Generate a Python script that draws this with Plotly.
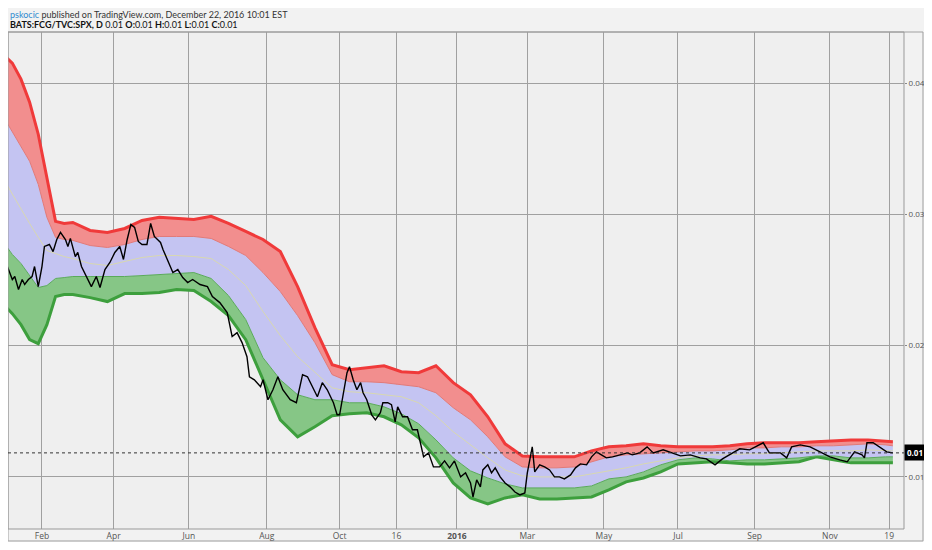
import plotly.graph_objects as go

# band sample dates (weekly at the start, then every two weeks)
band_dates = ["2015-01-02", "2015-01-09", "2015-01-16", "2015-01-23", "2015-01-30",
              "2015-02-06", "2015-02-13", "2015-02-20", "2015-02-27", "2015-03-13",
              "2015-03-27", "2015-04-10", "2015-04-24", "2015-05-08", "2015-05-22",
              "2015-06-05", "2015-06-19", "2015-07-03", "2015-07-17", "2015-07-31",
              "2015-08-14", "2015-08-28", "2015-09-11", "2015-09-25", "2015-10-09",
              "2015-10-23", "2015-11-06", "2015-11-20", "2015-12-04", "2015-12-18",
              "2016-01-01", "2016-01-15", "2016-01-29", "2016-02-12", "2016-02-26",
              "2016-03-11", "2016-03-25", "2016-04-08", "2016-04-22", "2016-05-06",
              "2016-05-20", "2016-06-03", "2016-06-17", "2016-07-01", "2016-07-15",
              "2016-07-29", "2016-08-12", "2016-08-26", "2016-09-09", "2016-09-23",
              "2016-10-07", "2016-10-21", "2016-11-04", "2016-11-18", "2016-12-02",
              "2016-12-16", "2016-12-22"]

upper_outer = [0.04214, 0.04153, 0.04031, 0.03855, 0.03611, 0.03267, 0.02947, 0.02931, 0.02939, 0.02878,
               0.02863, 0.02893, 0.02954, 0.02978, 0.02970, 0.02962, 0.02985, 0.02931, 0.02870, 0.02809,
               0.02717, 0.02450, 0.02137, 0.01855, 0.01817, 0.01832, 0.01847, 0.01802, 0.01794, 0.01847,
               0.01718, 0.01626, 0.01458, 0.01252, 0.01160, 0.01153, 0.01153, 0.01153, 0.01198, 0.01229,
               0.01237, 0.01252, 0.01237, 0.01229, 0.01229, 0.01229, 0.01237, 0.01252, 0.01260, 0.01260,
               0.01260, 0.01267, 0.01275, 0.01282, 0.01282, 0.01275, 0.01267]

upper_inner = [0.03741, 0.03626, 0.03519, 0.03405, 0.03229, 0.02978, 0.02825, 0.02809, 0.02802, 0.02763,
               0.02748, 0.02771, 0.02809, 0.02832, 0.02832, 0.02832, 0.02817, 0.02756, 0.02687, 0.02557,
               0.02412, 0.02229, 0.02023, 0.01779, 0.01725, 0.01725, 0.01718, 0.01702, 0.01687, 0.01641,
               0.01527, 0.01435, 0.01305, 0.01153, 0.01076, 0.01069, 0.01069, 0.01076, 0.01115, 0.01153,
               0.01168, 0.01176, 0.01183, 0.01191, 0.01198, 0.01198, 0.01206, 0.01221, 0.01221, 0.01229,
               0.01229, 0.01237, 0.01237, 0.01244, 0.01252, 0.01244, 0.01237]

middle = [0.03267, 0.03153, 0.03046, 0.02931, 0.02825, 0.02725, 0.02702, 0.02679, 0.02664, 0.02626,
          0.02611, 0.02641, 0.02672, 0.02687, 0.02687, 0.02679, 0.02664, 0.02580, 0.02458, 0.02260,
          0.02076, 0.01916, 0.01794, 0.01679, 0.01649, 0.01641, 0.01626, 0.01611, 0.01565, 0.01466,
          0.01344, 0.01244, 0.01145, 0.01053, 0.01008, 0.01000, 0.01000, 0.01000, 0.01023, 0.01046,
          0.01069, 0.01099, 0.01122, 0.01145, 0.01160, 0.01168, 0.01168, 0.01176, 0.01176, 0.01183,
          0.01191, 0.01198, 0.01198, 0.01198, 0.01206, 0.01198, 0.01198]

lower_inner = [0.02786, 0.02695, 0.02626, 0.02534, 0.02443, 0.02458, 0.02512, 0.02519, 0.02527, 0.02527,
               0.02527, 0.02527, 0.02534, 0.02542, 0.02550, 0.02557, 0.02512, 0.02382, 0.02199, 0.01908,
               0.01740, 0.01626, 0.01588, 0.01588, 0.01565, 0.01565, 0.01534, 0.01481, 0.01405, 0.01282,
               0.01145, 0.01046, 0.00992, 0.00947, 0.00916, 0.00916, 0.00916, 0.00916, 0.00931, 0.00985,
               0.01000, 0.01038, 0.01092, 0.01130, 0.01145, 0.01137, 0.01122, 0.01130, 0.01130, 0.01137,
               0.01145, 0.01160, 0.01160, 0.01145, 0.01145, 0.01153, 0.01153]

lower_outer = [0.02313, 0.02244, 0.02160, 0.02046, 0.02015, 0.02160, 0.02374, 0.02389, 0.02389, 0.02366,
               0.02336, 0.02397, 0.02397, 0.02405, 0.02428, 0.02420, 0.02336, 0.02229, 0.02046, 0.01740,
               0.01435, 0.01305, 0.01382, 0.01466, 0.01481, 0.01489, 0.01458, 0.01397, 0.01298, 0.01145,
               0.00954, 0.00840, 0.00794, 0.00840, 0.00863, 0.00832, 0.00832, 0.00840, 0.00847, 0.00901,
               0.00962, 0.00992, 0.01038, 0.01099, 0.01107, 0.01115, 0.01107, 0.01099, 0.01099, 0.01107,
               0.01115, 0.01153, 0.01130, 0.01107, 0.01107, 0.01107, 0.01107]

# FCG / SPX ratio
price_dates = ["2015-01-02", "2015-01-05", "2015-01-09", "2015-01-11", "2015-01-14", "2015-01-17",
               "2015-01-19", "2015-01-22", "2015-01-25", "2015-01-27", "2015-01-30", "2015-02-02",
               "2015-02-04", "2015-02-08", "2015-02-11", "2015-02-14", "2015-02-17", "2015-02-21",
               "2015-02-23", "2015-02-25", "2015-03-01", "2015-03-03", "2015-03-06", "2015-03-10",
               "2015-03-14", "2015-03-18", "2015-03-21", "2015-03-25", "2015-03-29", "2015-04-02",
               "2015-04-06", "2015-04-09", "2015-04-12", "2015-04-15", "2015-04-18", "2015-04-21",
               "2015-04-24", "2015-04-28", "2015-05-01", "2015-05-04", "2015-05-09", "2015-05-11",
               "2015-05-15", "2015-05-19", "2015-05-23", "2015-05-27", "2015-05-31", "2015-06-04",
               "2015-06-10", "2015-06-16", "2015-06-20", "2015-06-26", "2015-07-02", "2015-07-06",
               "2015-07-10", "2015-07-14", "2015-07-18", "2015-07-20", "2015-07-24", "2015-07-29",
               "2015-07-31", "2015-08-04", "2015-08-08", "2015-08-12", "2015-08-16", "2015-08-22",
               "2015-08-27", "2015-09-01", "2015-09-05", "2015-09-09", "2015-09-13", "2015-09-17",
               "2015-09-21", "2015-09-26", "2015-09-29", "2015-10-01", "2015-10-04", "2015-10-07",
               "2015-10-09", "2015-10-12", "2015-10-15", "2015-10-18", "2015-10-20", "2015-10-23",
               "2015-10-27", "2015-10-30", "2015-11-03", "2015-11-05", "2015-11-09", "2015-11-12",
               "2015-11-15", "2015-11-17", "2015-11-21", "2015-11-25", "2015-11-29", "2015-12-03",
               "2015-12-08", "2015-12-12", "2015-12-16", "2015-12-21", "2015-12-25", "2015-12-29",
               "2016-01-02", "2016-01-07", "2016-01-11", "2016-01-15", "2016-01-17", "2016-01-20",
               "2016-01-23", "2016-01-25", "2016-01-29", "2016-02-01", "2016-02-04", "2016-02-08",
               "2016-02-12", "2016-02-16", "2016-02-20", "2016-02-24", "2016-02-28", "2016-03-01",
               "2016-03-05", "2016-03-07", "2016-03-11", "2016-03-15", "2016-03-19", "2016-03-23",
               "2016-03-27", "2016-03-31", "2016-04-05", "2016-04-09", "2016-04-13", "2016-04-18",
               "2016-04-22", "2016-04-26", "2016-04-30", "2016-05-04", "2016-05-09", "2016-05-15",
               "2016-05-21", "2016-05-25", "2016-05-31", "2016-06-06", "2016-06-11", "2016-06-19",
               "2016-06-27", "2016-07-03", "2016-07-11", "2016-07-19", "2016-07-24", "2016-07-31",
               "2016-08-06", "2016-08-14", "2016-08-20", "2016-08-28", "2016-09-08", "2016-09-13",
               "2016-09-22", "2016-09-27", "2016-10-01", "2016-10-08", "2016-10-16", "2016-10-24",
               "2016-11-01", "2016-11-09", "2016-11-15", "2016-11-21", "2016-11-27", "2016-11-29",
               "2016-12-01", "2016-12-06", "2016-12-12", "2016-12-17", "2016-12-22"]

price = [0.02748, 0.02603, 0.02504, 0.02527, 0.02428, 0.02504, 0.02466, 0.02504, 0.02527, 0.02603,
         0.02450, 0.02603, 0.02756, 0.02771, 0.02717, 0.02809, 0.02863, 0.02809, 0.02756, 0.02817,
         0.02679, 0.02710, 0.02603, 0.02527, 0.02450, 0.02527, 0.02443, 0.02580, 0.02634, 0.02710,
         0.02756, 0.02657, 0.02809, 0.02924, 0.02901, 0.02794, 0.02771, 0.02771, 0.02931, 0.02832,
         0.02786, 0.02733, 0.02641, 0.02557, 0.02580, 0.02519, 0.02481, 0.02504, 0.02466, 0.02450,
         0.02374, 0.02328, 0.02252, 0.02069, 0.02099, 0.02023, 0.01916, 0.01763, 0.01740, 0.01687,
         0.01740, 0.01588, 0.01664, 0.01763, 0.01664, 0.01588, 0.01565, 0.01779, 0.01763, 0.01687,
         0.01611, 0.01718, 0.01664, 0.01565, 0.01473, 0.01473, 0.01641, 0.01794, 0.01840, 0.01740,
         0.01664, 0.01718, 0.01641, 0.01588, 0.01473, 0.01435, 0.01489, 0.01565, 0.01565, 0.01550,
         0.01420, 0.01534, 0.01458, 0.01458, 0.01359, 0.01359, 0.01153, 0.01183, 0.01076, 0.01076,
         0.01122, 0.01069, 0.01122, 0.01000, 0.01031, 0.00954, 0.00847, 0.00977, 0.00924, 0.01053,
         0.01092, 0.01031, 0.01069, 0.01000, 0.00954, 0.00924, 0.00885, 0.00863, 0.00878, 0.01031,
         0.01229, 0.01038, 0.01092, 0.01076, 0.01053, 0.01000, 0.01000, 0.00985, 0.01015, 0.01069,
         0.01099, 0.01092, 0.01153, 0.01191, 0.01168, 0.01145, 0.01153, 0.01168, 0.01183, 0.01168,
         0.01183, 0.01229, 0.01183, 0.01206, 0.01183, 0.01160, 0.01168, 0.01145, 0.01137, 0.01092,
         0.01137, 0.01183, 0.01214, 0.01206, 0.01260, 0.01183, 0.01183, 0.01145, 0.01229, 0.01244,
         0.01229, 0.01191, 0.01153, 0.01130, 0.01115, 0.01191, 0.01168, 0.01145, 0.01260, 0.01260,
         0.01221, 0.01191, 0.01183]

tick_dates = ["2015-02-02", "2015-04-01", "2015-06-01", "2015-08-03", "2015-10-01", "2015-11-16",
              "2016-01-04", "2016-03-01", "2016-05-02", "2016-07-01", "2016-09-01", "2016-11-01",
              "2016-12-19"]
tick_labels = ["Feb", "Apr", "Jun", "Aug", "Oct", "16", "<b>2016</b>", "Mar", "May", "Jul", "Sep", "Nov", "19"]
y_ticks = [0.01, 0.02, 0.03, 0.04]
y_labels = ["0.01", "0.02", "0.03", "0.04"]

last_price = price[-1]

fig = go.Figure()
fig.add_trace(go.Scatter(x=band_dates, y=lower_outer, mode="lines",
                         line=dict(color="#3d9f3d", width=3)))
fig.add_trace(go.Scatter(x=band_dates, y=lower_inner, mode="lines", fill="tonexty",
                         fillcolor="#86c686", line=dict(color="#5aaa5a", width=1)))
fig.add_trace(go.Scatter(x=band_dates, y=upper_inner, mode="lines", fill="tonexty",
                         fillcolor="#c4c4f2", line=dict(color="#e07a7a", width=1)))
fig.add_trace(go.Scatter(x=band_dates, y=upper_outer, mode="lines", fill="tonexty",
                         fillcolor="#f28e8e", line=dict(color="#f03a3a", width=3)))
fig.add_trace(go.Scatter(x=band_dates, y=middle, mode="lines",
                         line=dict(color="#d8d8b0", width=1)))
fig.add_trace(go.Scatter(x=price_dates, y=price, mode="lines",
                         line=dict(color="#000000", width=1.4)))

# the page body has an 8px margin, so the figure is kept 16px smaller than the window
fig.update_layout(
    width=916, height=534,
    margin=dict(l=0, r=20, t=24, b=13),
    paper_bgcolor="#f2f2f2",
    plot_bgcolor="#efefef",
    showlegend=False,
    hovermode=False,
    font=dict(family="Open Sans", size=9, color="#555555"),
    xaxis=dict(
        type="date",
        range=["2015-01-05 12:00", "2016-12-31 00:00"],
        tickvals=tick_dates, ticktext=tick_labels,
        showgrid=True, gridcolor="#a0a0a0", gridwidth=1,
        zeroline=False, showline=False, ticks="", automargin=False,
        tickfont=dict(size=8.5, color="#555555"),
    ),
    yaxis=dict(
        side="right",
        range=[0.00603, 0.04390],
        tickvals=y_ticks, ticktext=y_labels,
        showgrid=True, gridcolor="#a0a0a0", gridwidth=1,
        zeroline=False, showline=False, automargin=False,
        ticks="outside", ticklen=2, tickcolor="#888888",
        tickfont=dict(size=8, color="#555555"),
    ),
    shapes=[
        # outer frame and plot frame
        dict(type="rect", xref="paper", yref="paper", x0=0, x1=1.0212, y0=-0.0241, y1=1,
             line=dict(color="#a0a0a0", width=1), layer="below"),
        dict(type="rect", xref="paper", yref="paper", x0=0, x1=1, y0=0, y1=1,
             line=dict(color="#999999", width=1)),
        # last price line
        dict(type="line", xref="paper", yref="y", x0=0, x1=1.0, y0=last_price, y1=last_price,
             line=dict(color="#333333", width=1, dash="dot")),
    ],
    annotations=[
        dict(xref="paper", yref="paper", x=0, y=1.0362, xanchor="left", yanchor="middle",
             showarrow=False,
             text="<span style='color:#2f8ad0'>pskocic</span> published on TradingView.com, "
                  "December 22, 2016 10:01 EST",
             font=dict(size=9, color="#333333", family="Lato")),
        dict(xref="paper", yref="paper", x=0, y=1.0141, xanchor="left", yanchor="middle",
             showarrow=False,
             text="<b>BATS:FCG/TVC:SPX, D</b> 0.01 <b>O:</b>0.01 <b>H:</b>0.01 "
                  "<b>L:</b>0.01 <b>C:</b>0.01",
             font=dict(size=9, color="#111111", family="Lato")),
        dict(xref="paper", yref="y", x=1.0, y=last_price, xanchor="left", yanchor="middle",
             showarrow=False, text="<b>0.01</b>", bgcolor="#000000", borderpad=2,
             font=dict(size=8, color="#ffffff")),
    ],
)

fig.write_html("out.html")
